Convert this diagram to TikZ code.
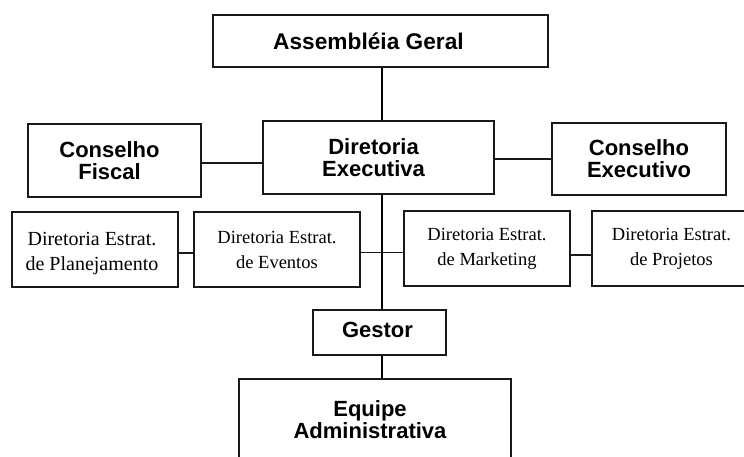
\documentclass[tikz,border=0pt]{standalone}
\usepackage{fontspec}
\setmainfont{Liberation Serif}
\newfontfamily\arialf{Liberation Sans}
\begin{document}
\begin{tikzpicture}[x=1pt,y=-1pt,
  box/.style={draw=black!90, line width=1.6pt, rectangle, inner sep=0pt},
  stxt/.style={font=\arialf\bfseries\fontsize{22}{22}\selectfont, align=center, inner sep=0pt},
  dbox/.style={draw=black!90, line width=1.2pt, rectangle, inner sep=0pt, align=center, font=\fontsize{18.5}{25}\selectfont},
  conn/.style={line width=1.5pt, draw=black!90},
  trunk/.style={line width=2.6pt, draw=black}]
\useasboundingbox[fill=white] (0,0) rectangle (744,457);
% top level
\node[box, minimum width=335pt, minimum height=52pt,
  label={[stxt, font=\arialf\bfseries\fontsize{22.7}{22}\selectfont, xshift=-12pt]center:Assembléia Geral}] (ag) at (380.5,41) {};
\node[box, minimum width=231pt, minimum height=73pt,
  label={[stxt, xshift=-5pt]center:Diretoria\\Executiva}] (de) at (378.5,157.5) {};
\node[box, minimum width=173pt, minimum height=73pt,
  label={[stxt, xshift=-5pt]center:Conselho\\Fiscal}] (cf) at (114.5,160.5) {};
\node[box, minimum width=174pt, minimum height=72pt,
  label={[stxt]center:Conselho\\Executivo}] (ce) at (639,159) {};
% strategic directorates
\node[dbox, minimum width=166pt, minimum height=75pt,
  label={[align=center, inner sep=0pt, font=\fontsize{20}{25}\selectfont, xshift=-3pt, yshift=-4pt]center:Diretoria Estrat.\\de Planejamento}] (pl) at (95,249.5) {};
\node[dbox, minimum width=166pt, minimum height=75pt] (ev) at (277,249.5) {Diretoria Estrat.\\de Eventos};
\node[dbox, minimum width=166pt, minimum height=75pt] (mk) at (487,248.5) {Diretoria Estrat.\\de Marketing};
\node[dbox, minimum width=159pt, minimum height=75pt] (pr) at (671.5,248.5) {Diretoria Estrat.\\de Projetos};
% lower levels
\node[box, minimum width=133pt, minimum height=45pt,
  label={[stxt, xshift=-2pt, yshift=3pt]center:Gestor}] (ge) at (379.5,332.5) {};
\node[box, minimum width=272pt, minimum height=81pt,
  label={[stxt, xshift=-5pt]center:Equipe\\Administrativa}] (eq) at (375,419.5) {};
% helper coordinates
\coordinate (tx) at (382,252.5);
\coordinate (yf) at (0,163);
\coordinate (ye) at (0,159);
\coordinate (yp) at (0,253);
\coordinate (yr) at (0,255);
% trunk
\draw[trunk] (ag.south -| tx) -- (de.north -| tx);
\draw[trunk] (de.south -| tx) -- (ge.north -| tx);
\draw[trunk] (ge.south -| tx) -- (eq.north -| tx);
% side connectors
\draw[conn] (cf.east |- yf) -- (de.west |- yf);
\draw[conn] (de.east |- ye) -- (ce.west |- ye);
\draw[conn] (ev.east |- tx) -- (tx) -- (mk.west |- tx);
\draw[conn] (pl.east |- yp) -- (ev.west |- yp);
\draw[conn] (mk.east |- yr) -- (pr.west |- yr);
\end{tikzpicture}
\end{document}
